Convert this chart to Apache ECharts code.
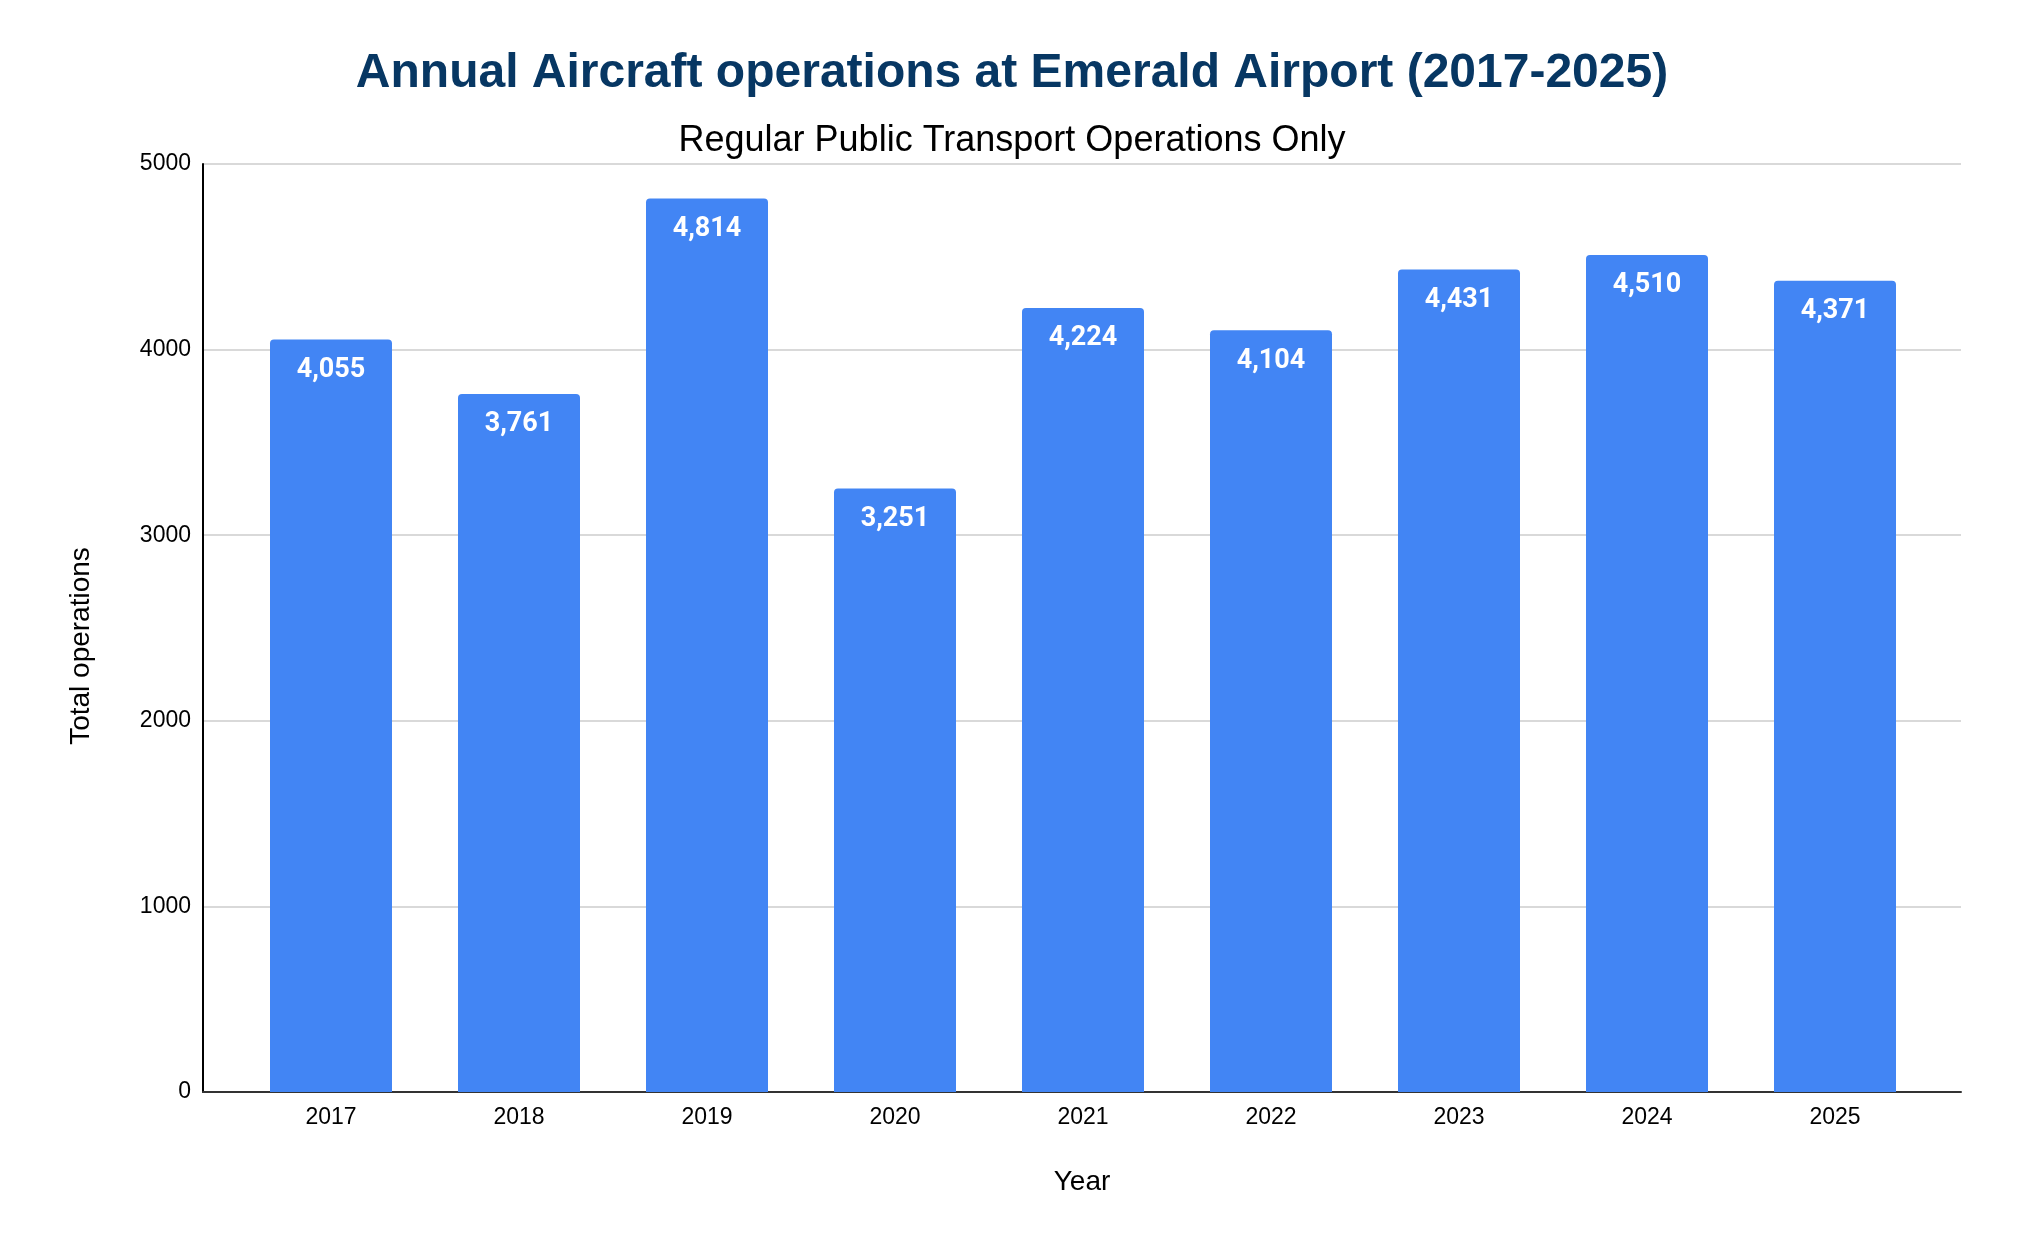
<!DOCTYPE html>
<html>
<head>
<meta charset="utf-8">
<script src="https://cdn.jsdelivr.net/npm/echarts@6/dist/echarts.min.js"></script>
<style>
  html, body { margin: 0; padding: 0; background: #ffffff; }
  #chart { width: 2024px; height: 1250px; }
</style>
</head>
<body>
<div id="chart"></div>
<script>
// ---- data ----
const years = ['2017', '2018', '2019', '2020', '2021', '2022', '2023', '2024', '2025'];
const operations = [4055, 3761, 4814, 3251, 4224, 4104, 4431, 4510, 4371];
const yTicks = [0, 1000, 2000, 3000, 4000, 5000];

const titleText = 'Annual Aircraft operations at Emerald Airport (2017-2025)';
const subtitleText = 'Regular Public Transport Operations Only';

const sansFont = '"Liberation Sans", Arial, sans-serif';
const yMin = yTicks[0];
const yMax = yTicks[yTicks.length - 1];
const yStep = yTicks[1] - yTicks[0];

const chart = echarts.init(document.getElementById('chart'), null, { renderer: 'canvas' });

const option = {
  backgroundColor: '#ffffff',
  animation: false,
  title: [
    {
      text: titleText,
      left: 'center',
      top: 45,
      textStyle: {
        fontFamily: sansFont,
        fontSize: 48,
        fontWeight: 'bold',
        color: '#073763',
        lineHeight: 48
      }
    },
    {
      text: subtitleText,
      left: 'center',
      top: 118,
      textStyle: {
        fontFamily: sansFont,
        fontSize: 36,
        fontWeight: 'normal',
        color: '#000000',
        lineHeight: 36
      }
    }
  ],
  grid: [
    { left: 203, right: 63, top: 164, bottom: 158, containLabel: false },
    { left: 237, right: 95, top: 164, bottom: 158, containLabel: false }
  ],
  xAxis: [
    {
      gridIndex: 0,
      type: 'value',
      min: 0,
      max: 1,
      name: 'Year',
      nameLocation: 'middle',
      nameGap: 76,
      nameTextStyle: { fontFamily: sansFont, fontSize: 28, color: '#000000' },
      axisLine: { show: true, onZero: false, lineStyle: { color: '#333333', width: 2 } },
      axisTick: { show: false },
      axisLabel: { show: false },
      splitLine: { show: false }
    },
    {
      gridIndex: 1,
      type: 'category',
      data: years,
      boundaryGap: true,
      axisLine: { show: false },
      axisTick: { show: false },
      axisLabel: {
        fontFamily: sansFont,
        fontSize: 23,
        color: '#000000',
        margin: 14
      },
      splitLine: { show: false }
    }
  ],
  yAxis: [
    {
      gridIndex: 0,
      type: 'value',
      min: yMin,
      max: yMax,
      interval: yStep,
      name: 'Total operations',
      nameLocation: 'middle',
      nameGap: 108,
      nameTextStyle: {
        fontFamily: sansFont,
        fontSize: 28,
        color: '#000000',
        padding: [0, 36, 0, 0]
      },
      axisLine: { show: true, lineStyle: { color: '#000000', width: 2 } },
      axisTick: { show: false },
      axisLabel: {
        fontFamily: sansFont,
        fontSize: 23,
        color: '#000000',
        margin: 12,
        formatter: function (v) { return String(v); }
      },
      splitLine: { show: true, lineStyle: { color: '#cccccc', width: 1.5 } }
    },
    {
      gridIndex: 1,
      type: 'value',
      min: yMin,
      max: yMax,
      interval: yStep,
      show: false,
      splitLine: { show: false }
    }
  ],
  series: [
    {
      type: 'bar',
      xAxisIndex: 1,
      yAxisIndex: 1,
      data: operations,
      barWidth: 122,
      itemStyle: {
        color: '#4285f4',
        borderRadius: [4, 4, 0, 0]
      },
      label: {
        show: true,
        position: 'insideTop',
        distance: 17,
        fontFamily: 'Roboto, sans-serif',
        fontWeight: 'bold',
        fontSize: 27,
        lineHeight: 27,
        color: '#ffffff',
        formatter: function (p) {
          return p.value.toLocaleString('en-US');
        }
      }
    }
  ]
};

chart.setOption(option);
</script>
</body>
</html>
